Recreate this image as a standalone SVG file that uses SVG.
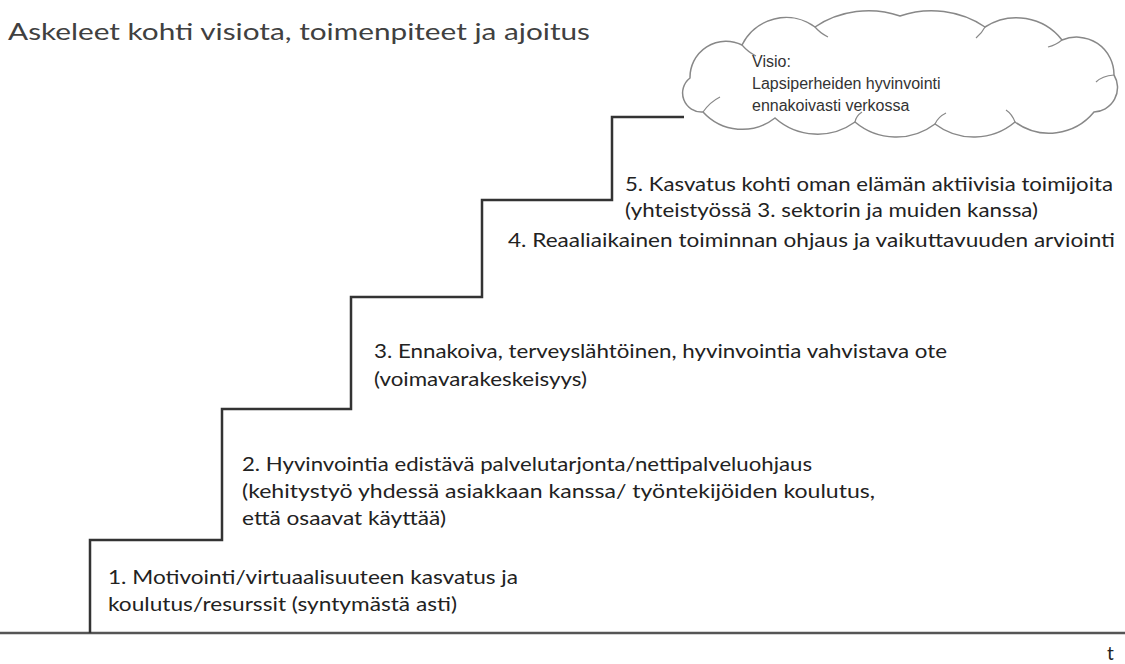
<svg xmlns="http://www.w3.org/2000/svg" width="1125" height="664" viewBox="0 0 1125 664">
<style>
.title{font-family:"Lato","Open Sans","Liberation Sans",sans-serif;font-size:23px;fill:#404040}
.step{font-family:"Lato","Open Sans","Liberation Sans",sans-serif;font-size:19px;fill:#222}
.cloudtxt{font-family:"Liberation Sans",Arial,sans-serif;font-size:16px;fill:#333}
.stair{fill:none;stroke:#333;stroke-width:2.5}
.axis{fill:none;stroke:#555;stroke-width:2.5}
.cloud{fill:#fff;stroke:#888;stroke-width:1.5}
.curl{fill:none;stroke:#888;stroke-width:1.2}
</style>
<rect width="1125" height="664" fill="#fff"/>
<text class="title" x="8" y="40" textLength="582" lengthAdjust="spacingAndGlyphs">Askeleet kohti visiota, toimenpiteet ja ajoitus</text>
<g id="connectors">
<line class="axis" x1="0" y1="633" x2="1125" y2="633"/>
<path class="stair" d="M90,633 V540 H222 V409 H351 V297 H482 V200 H612 V117 H684"/>
</g>
<g id="cloud">
<path class="cloud" d="M703,112 A19,19 0 0 1 690,78 A36,36 0 0 1 742,45 A49,49 0 0 1 815,27 A97,97 0 0 1 900,16 A97,97 0 0 1 985,27 A58,58 0 0 1 1062,40 A37.5,37.5 0 0 1 1114,75 A24.4,24.4 0 0 1 1094,112 A58,58 0 0 1 1015,122 A64,64 0 0 1 935,124 A64,64 0 0 1 855,122 A64,64 0 0 1 775,118 A53,53 0 0 1 703,112 Z"/>
<path class="curl" d="M742,45 Q748,52 756,56"/>
<path class="curl" d="M815,27 Q820,33 828,37"/>
<path class="curl" d="M985,27 Q982,33 976,38"/>
<path class="curl" d="M1062,40 Q1056,45 1048,47"/>
<path class="curl" d="M1114,75 Q1102,76 1096,82"/>
<path class="curl" d="M1015,122 Q1012,114 1006,110"/>
<path class="curl" d="M935,124 Q938,117 946,113"/>
<path class="curl" d="M855,122 Q856,116 862,112"/>
<path class="curl" d="M703,112 Q710,102 720,97"/>
<text class="cloudtxt" x="752" y="67">Visio:</text>
<text class="cloudtxt" x="752" y="89">Lapsiperheiden hyvinvointi</text>
<text class="cloudtxt" x="752" y="111">ennakoivasti verkossa</text>
</g>
<g id="step5">
<text class="step" x="625" y="191" textLength="488" lengthAdjust="spacingAndGlyphs">5. Kasvatus kohti oman elämän aktiivisia toimijoita</text>
<text class="step" x="625" y="217" textLength="413" lengthAdjust="spacingAndGlyphs">(yhteistyössä 3. sektorin ja muiden kanssa)</text>
</g>
<g id="step4">
<text class="step" x="508" y="247" textLength="607" lengthAdjust="spacingAndGlyphs">4. Reaaliaikainen toiminnan ohjaus ja vaikuttavuuden arviointi</text>
</g>
<g id="step3">
<text class="step" x="374" y="358" textLength="573" lengthAdjust="spacingAndGlyphs">3. Ennakoiva, terveyslähtöinen, hyvinvointia vahvistava ote</text>
<text class="step" x="374" y="386" textLength="213" lengthAdjust="spacingAndGlyphs">(voimavarakeskeisyys)</text>
</g>
<g id="step2">
<text class="step" x="242" y="471" textLength="570" lengthAdjust="spacingAndGlyphs">2. Hyvinvointia edistävä palvelutarjonta/nettipalveluohjaus</text>
<text class="step" x="242" y="498" textLength="633" lengthAdjust="spacingAndGlyphs">(kehitystyö yhdessä asiakkaan kanssa/ työntekijöiden koulutus,</text>
<text class="step" x="242" y="525" textLength="204" lengthAdjust="spacingAndGlyphs">että osaavat käyttää)</text>
</g>
<g id="step1">
<text class="step" x="108" y="584" textLength="410" lengthAdjust="spacingAndGlyphs">1. Motivointi/virtuaalisuuteen kasvatus ja</text>
<text class="step" x="108" y="611" textLength="349" lengthAdjust="spacingAndGlyphs">koulutus/resurssit (syntymästä asti)</text>
</g>
<g id="axislabel">
<text class="step" x="1107" y="660">t</text>
</g>
</svg>
